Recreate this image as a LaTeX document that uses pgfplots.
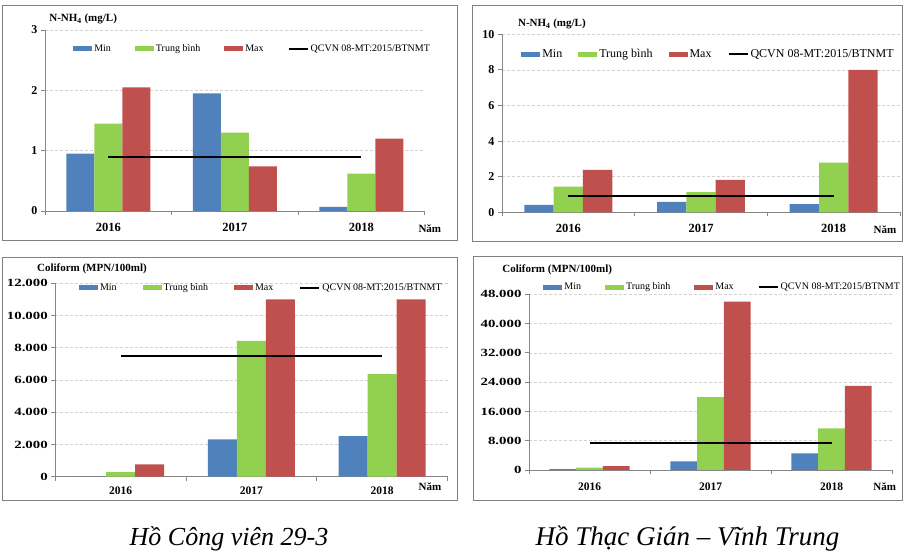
\documentclass[border=0pt]{standalone}
\usepackage{fontspec}
\setmainfont{Liberation Serif}
\newfontfamily\wideserif[FakeStretch=1.35]{Liberation Serif}
\usepackage{pgfplots}
\pgfplotsset{compat=1.18}
\definecolor{cmin}{RGB}{79,129,189}
\definecolor{cavg}{RGB}{146,208,80}
\definecolor{cmax}{RGB}{192,80,77}
\definecolor{axgray}{RGB}{134,134,134}
\definecolor{gridgray}{RGB}{210,210,210}
\definecolor{framegray}{RGB}{128,128,128}

\pgfplotsset{
  minbar/.style={ybar, fill=cmin, draw=none, legend image code/.code={\fill[cmin] (0pt,-2.5pt) rectangle (19pt,2.5pt);}},
  avgbar/.style={ybar, fill=cavg, draw=none, legend image code/.code={\fill[cavg] (0pt,-2.5pt) rectangle (19pt,2.5pt);}},
  maxbar/.style={ybar, fill=cmax, draw=none, legend image code/.code={\fill[cmax] (0pt,-2.5pt) rectangle (19pt,2.5pt);}},
  qline/.style={black, line width=2pt, sharp plot, mark=none, legend image code/.code={\draw[black,line width=2pt] (0pt,0pt) -- (19pt,0pt);}},
  panel/.style={
    scale only axis, anchor=south west,
    xmin=-0.5, xmax=2.5, ymin=0,
    axis lines*=left,
    axis line style={axgray, line width=0.8pt},
    xtick={-0.5,0.5,1.5,2.5}, xticklabels={},
    extra x ticks={0,1,2}, extra x tick labels={2016,2017,2018},
    extra x tick style={major tick length=0pt},
    tick align=outside, major tick length=4pt,
    tick style={axgray, line width=0.8pt},
    ymajorgrids, grid style={gridgray, dash pattern=on 3pt off 2pt, line width=0.6pt},
    /pgf/number format/assume math mode=true,
    /pgf/number format/1000 sep={.},
    scaled y ticks=false,
    legend columns=4,
    legend cell align=left,
    legend style={draw=none, fill=none, anchor=west, inner sep=0pt,
      nodes={inner sep=2pt}},
    title style={anchor=west, yshift=-8pt, font=\bfseries\fontsize{11}{13}\selectfont, inner sep=0pt},
    xlabel={Năm}, xlabel style={font=\bfseries\fontsize{11}{13}\selectfont, anchor=center, inner sep=0pt},
    clip=false,
  }
}

\begin{document}
\begin{tikzpicture}
\useasboundingbox (0pt,0pt) rectangle (903pt,556pt);
% frames
\draw[framegray, line width=0.8pt] (2pt,551pt) rectangle (457pt,316pt);
\draw[framegray, line width=0.8pt] (472pt,551pt) rectangle (902.5pt,315pt);
\draw[framegray, line width=0.8pt] (2pt,299pt) rectangle (457pt,56pt);
\draw[framegray, line width=0.8pt] (473pt,300pt) rectangle (902.5pt,56pt);

% Panel 1
\begin{axis}[panel, at={(45pt,345pt)}, width=379.5pt, height=181pt,
  ymax=3, ytick={0,1,2,3},
  yticklabel style={font=\bfseries\fontsize{12}{14}\selectfont},
  xticklabel style={font=\bfseries\fontsize{12.5}{14}\selectfont, yshift=-9pt},
  title={N-NH\textsubscript{4} (mg/L)}, title style={at={(0.011,1.072)}},
  xlabel style={at={(1.014,-0.099)}},
  legend style={at={(0.074,0.895)}, font=\fontsize{10}{12}\selectfont,
    /tikz/every even column/.append style={column sep=22pt}},
]
\addplot[minbar, bar width=28pt, bar shift=-28pt] coordinates {(0,0.95) (1,1.95) (2,0.07)};
\addplot[avgbar, bar width=28pt, bar shift=0pt] coordinates {(0,1.45) (1,1.30) (2,0.62)};
\addplot[maxbar, bar width=28pt, bar shift=28pt] coordinates {(0,2.05) (1,0.74) (2,1.20)};
\addplot[qline] coordinates {(0,0.9) (2,0.9)};
\legend{Min, Trung bình, Max, QCVN 08-MT:2015/BTNMT}
\end{axis}

% Panel 2
\begin{axis}[panel, at={(502pt,343.7pt)}, width=398pt, height=178pt,
  ymax=10, ytick={0,2,4,6,8,10},
  yticklabel style={font=\bfseries\fontsize{12}{14}\selectfont},
  xticklabel style={font=\bfseries\fontsize{12.5}{14}\selectfont, yshift=-8pt},
  title={N-NH\textsubscript{4} (mg/L)}, title style={at={(0.04,1.069)}},
  xlabel style={at={(0.962,-0.1)}},
  legend style={at={(0.048,0.889)}, font=\fontsize{12}{14}\selectfont,
    /tikz/every even column/.append style={column sep=14pt}},
]
\addplot[minbar, bar width=29.3pt, bar shift=-29.3pt] coordinates {(0,0.41) (1,0.59) (2,0.46)};
\addplot[avgbar, bar width=29.3pt, bar shift=0pt] coordinates {(0,1.44) (1,1.14) (2,2.79)};
\addplot[maxbar, bar width=29.3pt, bar shift=29.3pt] coordinates {(0,2.38) (1,1.82) (2,8.0)};
\addplot[qline] coordinates {(0,0.9) (2,0.9)};
\legend{Min, Trung bình, Max, QCVN 08-MT:2015/BTNMT}
\end{axis}

% Panel 3
\begin{axis}[panel, at={(55.3pt,79.3pt)}, width=392.3pt, height=193.4pt,
  ymax=12000, ytick={0,2000,4000,6000,8000,10000,12000},
  yticklabel style={font=\wideserif\bfseries\fontsize{11}{13}\selectfont},
  xticklabel style={font=\bfseries\fontsize{11.5}{14}\selectfont, yshift=-7pt},
  title={Coliform (MPN/100ml)}, title style={at={(-0.047,1.084)}},
  xlabel style={at={(0.955,-0.053)}},
  legend style={at={(0.06,0.976)}, font=\fontsize{10}{12}\selectfont,
    /tikz/every even column/.append style={column sep=24pt}},
]
\addplot[minbar, bar width=29pt, bar shift=-29pt] coordinates {(0,0) (1,2320) (2,2520)};
\addplot[avgbar, bar width=29pt, bar shift=0pt] coordinates {(0,290) (1,8420) (2,6370)};
\addplot[maxbar, bar width=29pt, bar shift=29pt] coordinates {(0,770) (1,11000) (2,11000)};
\addplot[qline] coordinates {(0,7500) (2,7500)};
\legend{Min, Trung bình, Max, QCVN 08-MT:2015/BTNMT}
\end{axis}

% Panel 4
\begin{axis}[panel, at={(529pt,86pt)}, width=363pt, height=175.7pt,
  ymax=48000, ytick={0,8000,16000,24000,32000,40000,48000},
  yticklabel style={font=\wideserif\bfseries\fontsize{11}{13}\selectfont},
  xticklabel style={font=\bfseries\fontsize{11.5}{14}\selectfont, yshift=-9pt},
  title={Coliform (MPN/100ml)}, title style={at={(-0.074,1.15)}},
  xlabel style={at={(0.98,-0.097)}},
  legend style={at={(0.039,1.04)}, font=\fontsize{10}{12}\selectfont,
    /tikz/every even column/.append style={column sep=22pt}},
]
\addplot[minbar, bar width=26.8pt, bar shift=-26.8pt] coordinates {(0,270) (1,2370) (2,4550)};
\addplot[avgbar, bar width=26.8pt, bar shift=0pt] coordinates {(0,640) (1,19900) (2,11400)};
\addplot[maxbar, bar width=26.8pt, bar shift=26.8pt] coordinates {(0,1090) (1,46000) (2,23000)};
\addplot[qline] coordinates {(0,7500) (2,7500)};
\legend{Min, Trung bình, Max, QCVN 08-MT:2015/BTNMT}
\end{axis}

% captions
\node[font=\itshape\fontsize{26}{30}\selectfont] at (229pt,17pt) {Hồ Công viên 29-3};
\node[font=\itshape\fontsize{27}{31}\selectfont] at (687.5pt,17pt) {Hồ Thạc Gián – Vĩnh Trung};
\end{tikzpicture}
\end{document}
